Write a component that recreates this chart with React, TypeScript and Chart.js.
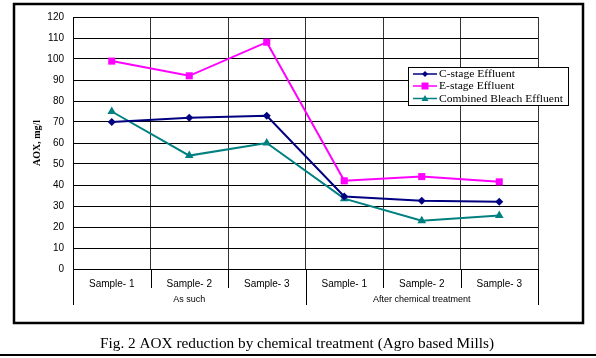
import React, { useEffect, useRef } from "react";
import { Chart, registerables } from "chart.js";

Chart.register(...registerables);

const categories = ["Sample- 1", "Sample- 2", "Sample- 3", "Sample- 1", "Sample- 2", "Sample- 3"];
const groups = ["As such", "After chemical treatment"];
const cStage = [70, 72, 73, 34.5, 32.5, 32];
const eStage = [99, 92, 108, 42, 44, 41.5];
const combined = [75, 54, 60, 33.5, 23, 25.5];
const seriesNames = ["C-stage Effluent", "E-stage Effluent", "Combined Bleach Effluent"];
const yTitle = "AOX, mg/l";
const caption = "Fig. 2 AOX reduction by chemical treatment (Agro based Mills)";

const colors = ["#000080", "#FF00FF", "#008080"];
const markers = ["rectRot", "rect", "triangle"];
const radii = [4, 5, 5];

function fitText(ctx: any, text: string, x: number, y: number, width: number, align: string) {
  const w = ctx.measureText(text).width;
  const s = width / w;
  ctx.save();
  ctx.translate(x, y);
  ctx.scale(s, 1);
  ctx.textAlign = align;
  ctx.fillText(text, 0, 0);
  ctx.restore();
}

const decor = {
  id: "decor",
  beforeDraw(chart: any) {
    const ctx = chart.ctx;
    ctx.save();
    ctx.fillStyle = "#fff";
    ctx.fillRect(0, 0, chart.width, chart.height);
    ctx.restore();
  },
  afterDraw(chart: any) {
    const ctx = chart.ctx;
    const x = chart.scales.x;
    const area = chart.chartArea;
    ctx.save();
    const step = x.getPixelForValue(1) - x.getPixelForValue(0);
    ctx.strokeStyle = "#000";
    ctx.lineWidth = 1;
    for (let i = 0; i <= categories.length; i++) {
      const px = Math.round(x.getPixelForValue(0) - step / 2 + i * step) + 0.5;
      const isGroup = i % 3 === 0;
      ctx.beginPath();
      ctx.moveTo(px, area.bottom);
      ctx.lineTo(px, isGroup ? 305 : 288);
      ctx.stroke();
    }
    ctx.fillStyle = "#000";
    ctx.font = "9px 'Liberation Sans', Arial, sans-serif";
    ctx.textAlign = "center";
    ctx.textBaseline = "middle";
    for (let g = 0; g < groups.length; g++) {
      const left = x.getPixelForValue(g * 3) - step / 2;
      const right = x.getPixelForValue(g * 3 + 2) + step / 2;
      ctx.fillText(groups[g], (left + right) / 2, 300);
    }
    ctx.save();
    ctx.translate(37, (area.top + area.bottom) / 2);
    ctx.rotate(-Math.PI / 2);
    ctx.font = "bold 10px 'Liberation Serif', 'Times New Roman', serif";
    ctx.fillText(yTitle, 0, 0);
    ctx.restore();
    // legend
    const lx = 408, ly = 67, lw = 160, lh = 38;
    ctx.fillStyle = "#fff";
    ctx.fillRect(lx, ly, lw, lh);
    ctx.strokeStyle = "#000";
    ctx.lineWidth = 1;
    ctx.strokeRect(lx + 0.5, ly + 0.5, lw, lh);
    const rowsY = [74, 86, 98.5];
    ctx.font = "10px 'Liberation Serif', 'Times New Roman', serif";
    const baseW = ctx.measureText(seriesNames[2]).width;
    const sc = 124 / baseW;
    for (let i = 0; i < 3; i++) {
      const yy = rowsY[i];
      ctx.strokeStyle = colors[i];
      ctx.lineWidth = 1.5;
      ctx.beginPath();
      ctx.moveTo(413, yy);
      ctx.lineTo(437, yy);
      ctx.stroke();
      ctx.fillStyle = colors[i];
      ctx.beginPath();
      if (i === 0) {
        ctx.moveTo(425, yy - 3);
        ctx.lineTo(428, yy);
        ctx.lineTo(425, yy + 3);
        ctx.lineTo(422, yy);
      } else if (i === 1) {
        ctx.rect(421.5, yy - 3.5, 7, 7);
      } else {
        ctx.moveTo(425, yy - 3.5);
        ctx.lineTo(428.5, yy + 2.5);
        ctx.lineTo(421.5, yy + 2.5);
      }
      ctx.closePath();
      ctx.fill();
      ctx.fillStyle = "#000";
      const w = ctx.measureText(seriesNames[i]).width * sc;
      fitText(ctx, seriesNames[i], 439, yy + 0.5, w, "left");
    }
    // outer frame
    ctx.strokeStyle = "#000";
    ctx.lineWidth = 2.5;
    ctx.strokeRect(14, 4, 569, 319);
    // caption
    ctx.fillStyle = "#000";
    ctx.font = "14px 'Liberation Serif', 'Times New Roman', serif";
    fitText(ctx, caption, 297, 344, 394, "center");
    ctx.lineWidth = 2;
    ctx.beginPath();
    ctx.moveTo(0, 355);
    ctx.lineTo(596, 355);
    ctx.stroke();
    ctx.restore();
  },
};

export default function App() {
  const ref = useRef<HTMLCanvasElement>(null);
  useEffect(() => {
    const values = [cStage, eStage, combined];
    const chart = new Chart(ref.current!, {
      type: "line",
      data: {
        labels: categories,
        datasets: values.map((v, i) => ({
          label: seriesNames[i],
          data: v,
          borderColor: colors[i],
          backgroundColor: colors[i],
          borderWidth: 2,
          pointStyle: markers[i] as any,
          pointRadius: radii[i],
          pointBorderWidth: 0,
          tension: 0,
        })),
      },
      options: {
        responsive: false,
        animation: false,
        devicePixelRatio: 1,
        layout: { padding: { left: 0, top: 17, right: 58, bottom: 0 } },
        plugins: { legend: { display: false }, tooltip: { enabled: false } },
        scales: {
          x: {
            offset: true,
            afterFit: (s: any) => { s.height = 89; },
            grid: { offset: true, color: "#333", lineWidth: 1, drawTicks: false },
            border: { color: "#000", width: 1 },
            ticks: {
              color: "#000",
              padding: 9,
              maxRotation: 0,
              font: { family: "'Liberation Sans', Arial, sans-serif", size: 10 },
            },
          },
          y: {
            min: 0,
            max: 120,
            afterFit: (s: any) => { s.width = 73; },
            grid: { color: "#000", lineWidth: 1, drawTicks: false },
            border: { color: "#000", width: 1 },
            ticks: {
              stepSize: 10,
              color: "#000",
              padding: 9,
              font: { family: "'Liberation Sans', Arial, sans-serif", size: 10 },
            },
          },
        },
      },
      plugins: [decor],
    });
    return () => chart.destroy();
  }, []);
  return (
    <canvas
      ref={ref}
      width={596}
      height={358}
      style={{ position: "absolute", left: 0, top: 0, display: "block" }}
    />
  );
}
